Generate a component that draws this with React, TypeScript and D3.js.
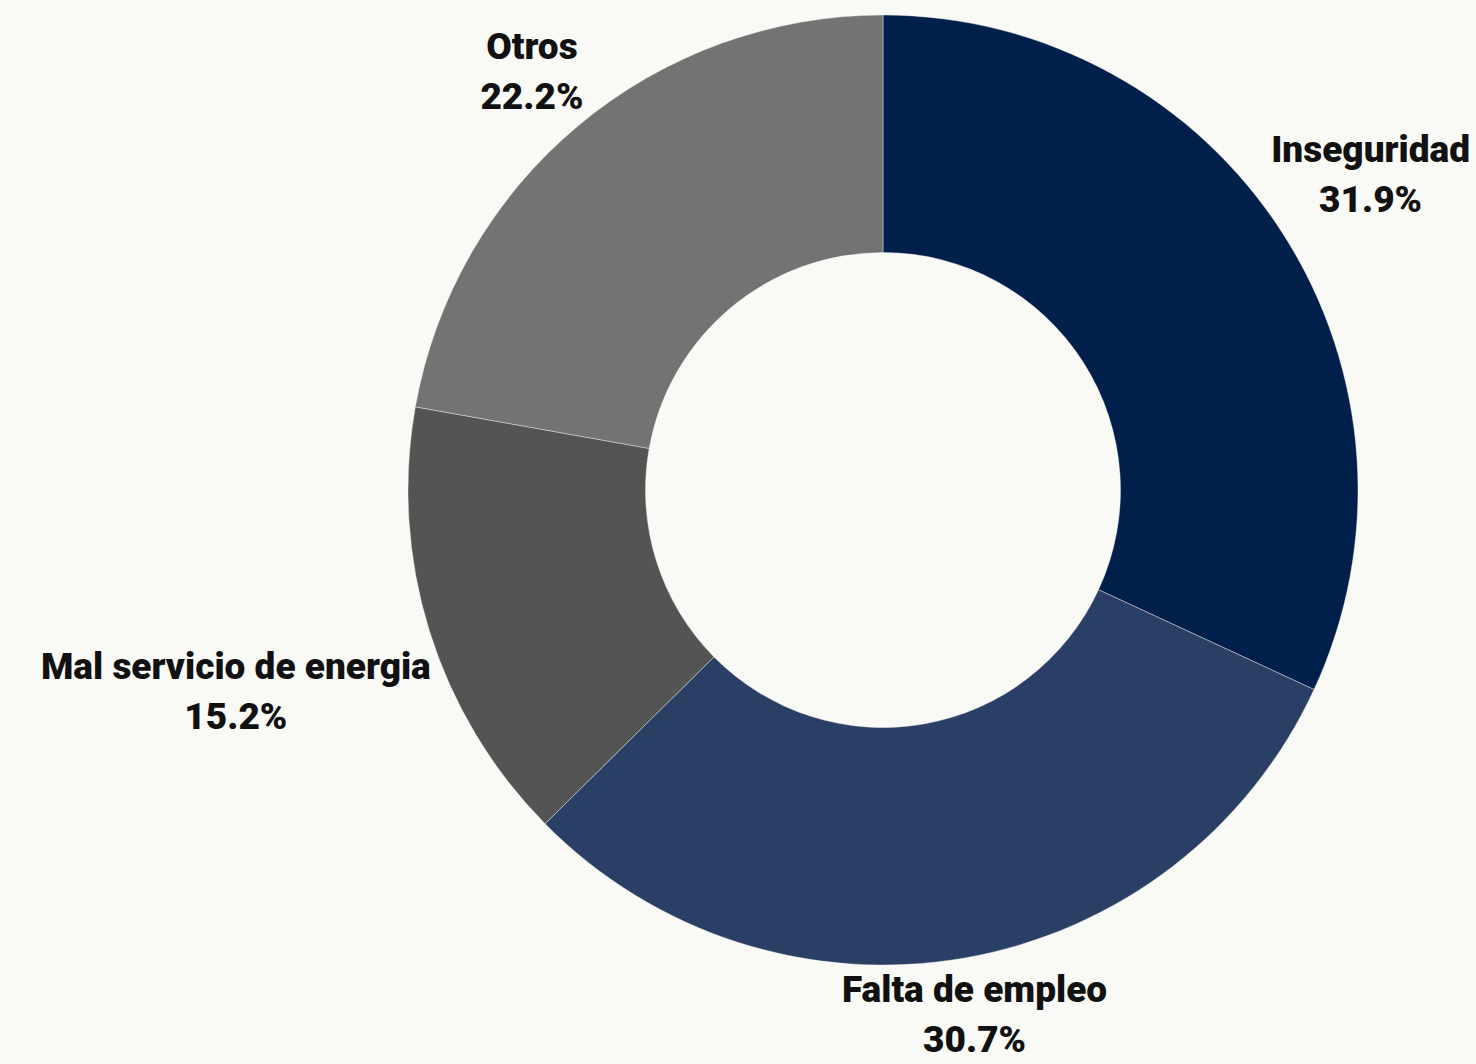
import React, { useEffect, useRef } from "react";
import * as d3 from "d3";

const categories = ["Inseguridad", "Falta de empleo", "Mal servicio de energia", "Otros"];
const values = [31.9, 30.7, 15.2, 22.2];
const colors = ["#00204b", "#2a3f66", "#545454", "#737373"];

const W = 1476;
const H = 1064;
const CX = 883;
const CY = 490;
const R_OUT = 475;
const R_IN = 237.5;
const CLEAR = 478;
const FONT = 37;
const LINE = 50;

export default function App() {
  const ref = useRef<SVGSVGElement>(null);

  useEffect(() => {
    document.body.style.margin = "0";
    document.body.style.background = "#f9f9f5";
    const svg = d3.select(ref.current);
    svg.selectAll("*").remove();

    svg.append("rect").attr("width", W).attr("height", H).attr("fill", "#f9f9f5");

    const data = categories.map((c, i) => ({ c, v: values[i], color: colors[i] }));
    const pie = d3.pie<any>().sort(null).value((d) => d.v).startAngle(0).endAngle(2 * Math.PI);
    const arcs = pie(data);
    const arc = d3.arc<any>().innerRadius(R_IN).outerRadius(R_OUT);

    const g = svg.append("g").attr("transform", `translate(${CX},${CY})`);
    g.selectAll("path.slice")
      .data(arcs)
      .join("path")
      .attr("class", "slice")
      .attr("d", arc as any)
      .attr("fill", (d: any) => d.data.color)
      .attr("stroke", "#f9f9f5")
      .attr("stroke-width", 0.4);

    arcs.forEach((a: any) => {
      const lg = g.append("g");
      const text = lg
        .append("text")
        .attr("text-anchor", "middle")
        .attr("font-family", "Roboto, 'Noto Sans', sans-serif")
        .attr("font-weight", 900)
        .attr("font-size", FONT)
        .attr("fill", "#111111");
      text.append("tspan").attr("x", 0).attr("y", 0).text(a.data.c);
      text.append("tspan").attr("x", 0).attr("y", LINE).text(d3.format(".1f")(a.data.v) + "%");
      const bb = (lg.node() as SVGGElement).getBBox();
      const w = bb.width;
      const h = bb.height;
      const mid = (a.startAngle + a.endAngle) / 2;
      const ux = Math.sin(mid);
      const uy = -Math.cos(mid);
      const dist = (t: number) => {
        const cx = t * ux;
        const cy = t * uy;
        const dx = Math.max(Math.abs(cx) - w / 2, 0);
        const dy = Math.max(Math.abs(cy) - h / 2, 0);
        return Math.hypot(dx, dy);
      };
      let lo = 0;
      let hi = 2000;
      for (let k = 0; k < 60; k++) {
        const m = (lo + hi) / 2;
        if (dist(m) < CLEAR) lo = m;
        else hi = m;
      }
      const t = hi;
      let px = t * ux;
      const py = t * uy;
      const bcx = bb.x + w / 2;
      const bcy = bb.y + h / 2;
      // keep the label inside the picture
      const right = CX + px + w / 2;
      if (right > W - 6) px -= right - (W - 6);
      lg.attr("transform", `translate(${px - bcx},${py - bcy})`);
    });
  }, []);

  return <svg ref={ref} width={W} height={H} style={{ display: "block" }} />;
}
